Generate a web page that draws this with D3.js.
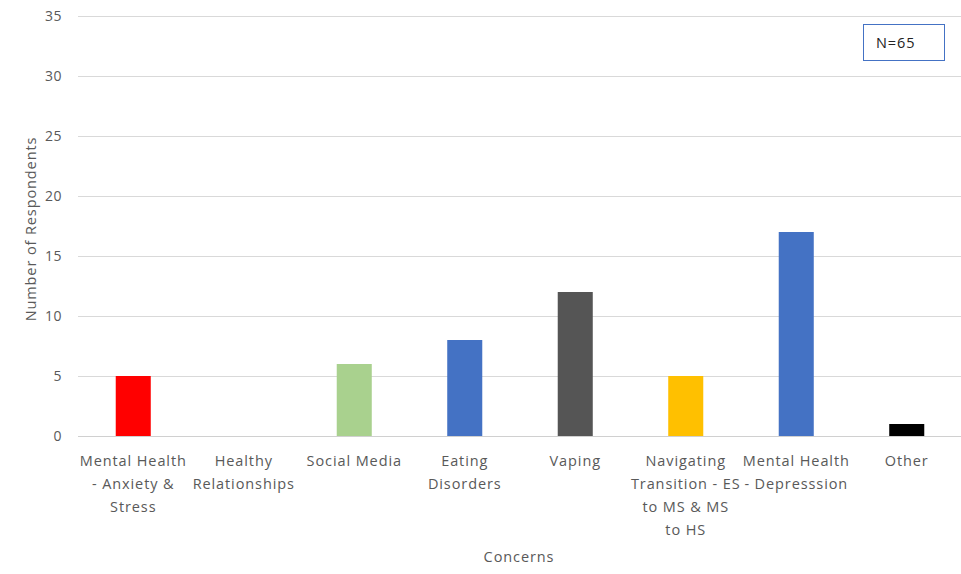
<!DOCTYPE html>
<html><head><meta charset="utf-8">
<script src="https://cdn.jsdelivr.net/npm/d3@7"></script>
<style>body{margin:0;background:#fff;font-family:"Open Sans",sans-serif;}</style>
</head><body><svg id="c" width="961" height="574"></svg>
<script>
const categories = [
  ["Mental Health","- Anxiety &","Stress"],
  ["Healthy","Relationships"],
  ["Social Media"],
  ["Eating","Disorders"],
  ["Vaping"],
  ["Navigating","Transition - ES","to MS & MS","to HS"],
  ["Mental Health","- Depresssion"],
  ["Other"]
];
const values = [5, 0, 6, 8, 12, 5, 17, 1];
const colors = ["#FF0000","#A9D18E","#A9D18E","#4472C4","#555555","#FFC000","#4472C4","#000000"];
const yTicks = [0,5,10,15,20,25,30,35];
const annotation = "N=65";

(function(){
const svg = d3.select("#c");
const pLeft = 78, pRight = 962, pTop = 16, pBottom = 436;
const ids = categories.map((c,i)=>i);
const x = d3.scaleBand().domain(ids).range([pLeft,pRight]).paddingInner(0.683).paddingOuter(0.3415);
const y = d3.scaleLinear().domain([0,35]).range([pBottom, pTop]);
const LS = "0.9px";

svg.append("g").selectAll("line").data(yTicks).join("line")
  .attr("x1",pLeft).attr("x2",pRight)
  .attr("y1",d=>y(d)+0.5).attr("y2",d=>y(d)+0.5)
  .attr("stroke",d=>d===0?"#d0d0d0":"#d9d9d9").attr("stroke-width",1);

svg.append("g").selectAll("text").data(yTicks).join("text")
  .attr("x",62).attr("y",d=>y(d)+5)
  .attr("text-anchor","end").attr("fill","#595959")
  .attr("font-size",14).attr("letter-spacing","0.5px").text(d=>d);

svg.append("g").selectAll("rect").data(values).join("rect")
  .attr("x",(d,i)=>x(i)).attr("width",x.bandwidth())
  .attr("y",d=>y(d)).attr("height",d=>y(0)-y(d))
  .attr("fill",(d,i)=>colors[i]);

const xl = svg.append("g");
categories.forEach((lines,i)=>{
  const t = xl.append("text").attr("text-anchor","middle").attr("fill","#595959")
    .attr("font-size",14.5).attr("letter-spacing",LS);
  lines.forEach((ln,j)=>{
    t.append("tspan").attr("x",x(i)+x.bandwidth()/2).attr("y",466+j*23).text(ln);
  });
});

svg.append("text").attr("x",519).attr("y",562).attr("text-anchor","middle")
  .attr("fill","#595959").attr("font-size",14.5).attr("letter-spacing",LS).text("Concerns");
svg.append("text").attr("transform","translate(36,229) rotate(-90)").attr("text-anchor","middle")
  .attr("fill","#595959").attr("font-size",14.5).attr("letter-spacing",LS).text("Number of Respondents");

svg.append("rect").attr("x",863.5).attr("y",24.5).attr("width",81).attr("height",36)
  .attr("fill","#fff").attr("stroke","#4472C4").attr("stroke-width",1);
svg.append("text").attr("x",876).attr("y",48).attr("fill","#222").attr("font-size",14.5)
  .attr("letter-spacing",LS).text(annotation);
})();
</script></body></html>
